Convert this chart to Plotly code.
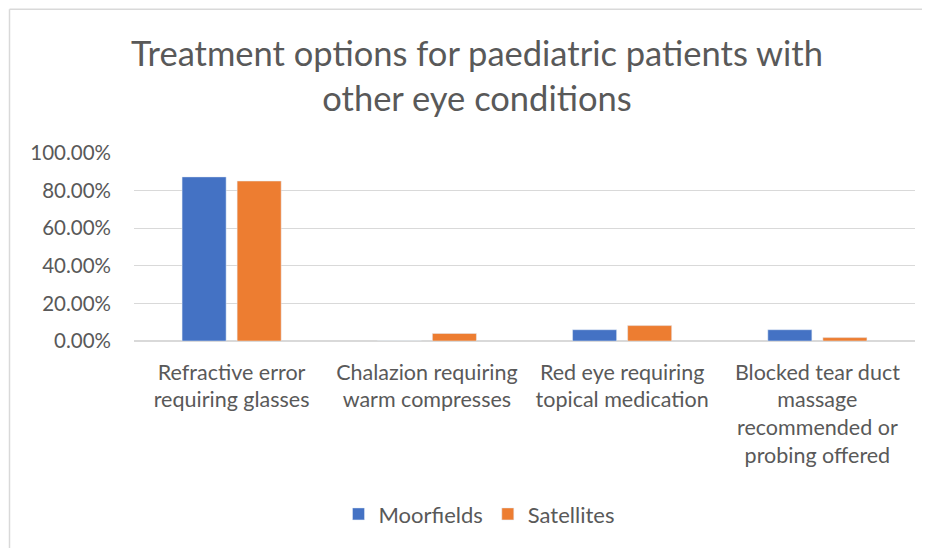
import plotly.graph_objects as go

categories = [
    "Refractive error<br>requiring glasses",
    "Chalazion requiring<br>warm compresses",
    "Red eye requiring<br>topical medication",
    "Blocked tear duct<br>massage<br>recommended or<br>probing offered",
]
moorfields = [0.873, 0.0, 0.060, 0.060]
satellites = [0.851, 0.040, 0.082, 0.018]
y_ticks = [0, 0.2, 0.4, 0.6, 0.8, 1.0]

FONT = "Lato"
GREY = "#595959"

# page offset (body margin) compensation
OFF = 8
W, H = 922, 540

# target plot area in page pixels
PX0, PX1 = 134, 915
PY0, PY1 = 152.7, 340.8

L = PX0 - OFF
R = W - (PX1 - OFF)
T = PY0 - OFF
B = H - (PY1 - OFF)
pw = W - L - R
ph = H - T - B


def px_to_paper_x(px):
    return (px - OFF - L) / pw


def px_to_paper_y(py):
    return (H - B - (py - OFF)) / ph


fig = go.Figure()
fig.add_trace(go.Bar(name="Moorfields", x=categories, y=moorfields, marker_color="#4472C4"))
fig.add_trace(go.Bar(name="Satellites", x=categories, y=satellites, marker_color="#ED7D31"))

frame = dict(color="#D9D9D9", width=1.5)
fig.update_layout(
    width=W, height=H,
    margin=dict(l=L, r=R, t=T, b=B, pad=0),
    paper_bgcolor="white", plot_bgcolor="white",
    barmode="group", bargap=0.436, bargroupgap=0.2,
    font=dict(family=FONT, color=GREY, size=20),
    title=dict(
        text="Treatment options for paediatric patients with<br>other eye conditions",
        font=dict(family=FONT, size=34.5, color=GREY),
        x=px_to_paper_x(477), xref="paper", xanchor="center",
        y=1 - (66 - OFF) / H, yref="container", yanchor="middle",
    ),
    xaxis=dict(showgrid=False, showline=False, ticks="", tickfont=dict(size=21.5, color=GREY),
               ticklabelstandoff=16),
    yaxis=dict(
        range=[0, 1.0001], tickvals=y_ticks, tickformat=".2%",
        showgrid=True, gridcolor="#D9D9D9", gridwidth=1,
        zeroline=True, zerolinecolor="#D9D9D9", zerolinewidth=1.5,
        showline=False, ticks="", tickfont=dict(size=20.5, color=GREY),
        ticklabelstandoff=22,
    ),
    legend=dict(
        orientation="h", x=px_to_paper_x(479), xanchor="center",
        y=px_to_paper_y(514), yanchor="middle",
        font=dict(size=22, color=GREY), itemwidth=30,
    ),
    shapes=[
        dict(type="line", xref="paper", yref="paper",
             x0=px_to_paper_x(OFF + 1.5), x1=px_to_paper_x(OFF + 1.5),
             y0=px_to_paper_y(OFF + 0.75), y1=px_to_paper_y(OFF + H),
             line=frame, layer="below"),
        dict(type="line", xref="paper", yref="paper",
             x0=px_to_paper_x(OFF + 1.5), x1=px_to_paper_x(OFF + W),
             y0=px_to_paper_y(OFF + 0.75), y1=px_to_paper_y(OFF + 0.75),
             line=frame, layer="below"),
    ],
)

fig.write_html("out.html")
